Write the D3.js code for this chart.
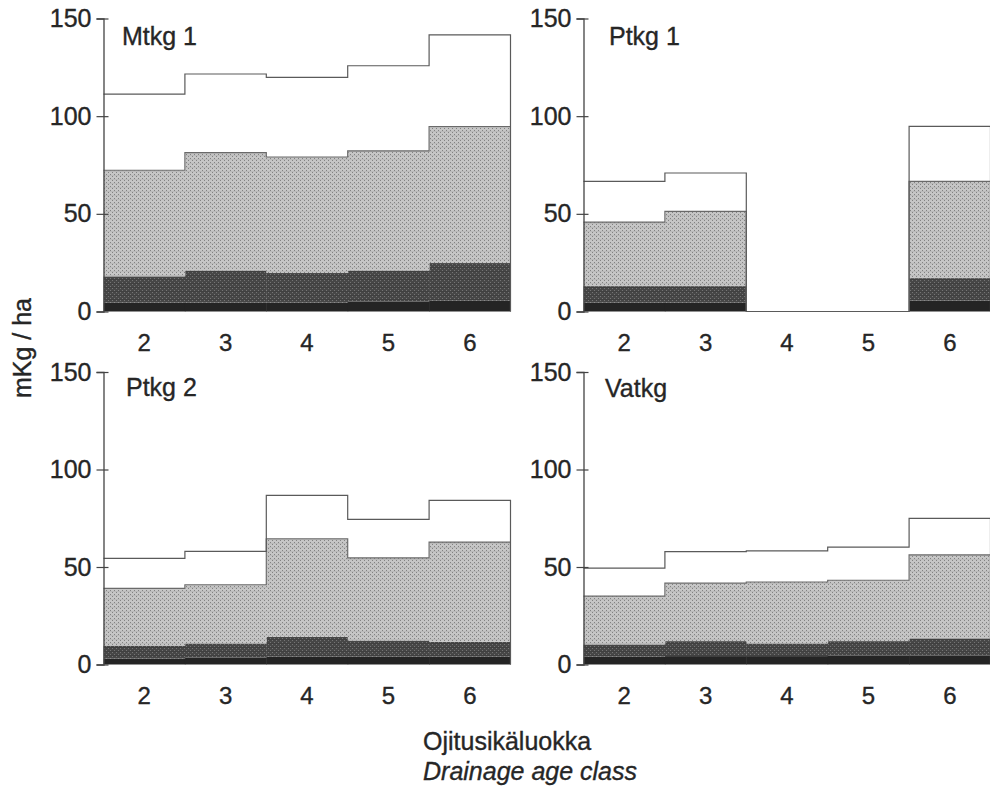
<!DOCTYPE html>
<html>
<head>
<meta charset="utf-8">
<script src="https://cdn.jsdelivr.net/npm/d3@7/dist/d3.min.js"></script>
<style>
  body { margin: 0; background: #fff; }
  svg text { font-family: "Liberation Sans", Arial, sans-serif; fill: #262626; stroke: #262626; stroke-width: 0.35px; }
</style>
</head>
<body>
<div id="chart"></div>
<script>
// ikäluokat (x) ja y-akselin jaot
const ageClasses = ["2", "3", "4", "5", "6"];
const yTicks = [0, 50, 100, 150];
const panelNames = ["Mtkg 1", "Ptkg 1", "Ptkg 2", "Vatkg"];
const layerKeys = ["l1", "l2", "l3", "l4"]; // alhaalta ylös

// kerrosten arvot (mKg/ha), alin kerros ensin
const mtkg1_l1 = [4.5, 4.5, 4.5, 5, 5.5];
const mtkg1_l2 = [13.5, 16.5, 15.2, 16, 19.3];
const mtkg1_l3 = [54.3, 60.3, 59.4, 61.2, 69.9];
const mtkg1_l4 = [39, 40.3, 40.8, 43.6, 46.9];

const ptkg1_l1 = [4.5, 4.5, 0, 0, 5.6];
const ptkg1_l2 = [8.5, 8.5, 0, 0, 11.5];
const ptkg1_l3 = [32.8, 38.3, 0, 0, 49.5];
const ptkg1_l4 = [20.8, 19.6, 0, 0, 28.2];

const ptkg2_l1 = [3, 3.5, 4, 4, 4];
const ptkg2_l2 = [6.7, 7.3, 10.2, 8.3, 7.6];
const ptkg2_l3 = [29.3, 30.1, 50.3, 42.4, 51.2];
const ptkg2_l4 = [15.4, 17.1, 22.2, 19.7, 21.4];

const vatkg_l1 = [4, 4.3, 4.3, 4.5, 4.5];
const vatkg_l2 = [6.3, 7.7, 6.5, 7.5, 8.9];
const vatkg_l3 = [24.8, 29.7, 31.5, 31.2, 42.8];
const vatkg_l4 = [14.3, 16.2, 16, 17, 18.7];

const panelLayers = [
  [mtkg1_l1, mtkg1_l2, mtkg1_l3, mtkg1_l4],
  [ptkg1_l1, ptkg1_l2, ptkg1_l3, ptkg1_l4],
  [ptkg2_l1, ptkg2_l2, ptkg2_l3, ptkg2_l4],
  [vatkg_l1, vatkg_l2, vatkg_l3, vatkg_l4]
];

const W = 990, H = 794;
const svg = d3.select("#chart").append("svg")
  .attr("width", W).attr("height", H);

// tekstuurit
const defs = svg.append("defs");
function stipple(id, bg, dot, line) {
  const p = defs.append("pattern").attr("id", id)
    .attr("width", 4).attr("height", 4).attr("patternUnits", "userSpaceOnUse");
  p.append("rect").attr("width", 4).attr("height", 4).attr("fill", bg);
  p.append("rect").attr("x", 0).attr("y", 0).attr("width", 1).attr("height", 1).attr("fill", dot);
  p.append("rect").attr("x", 2).attr("y", 2).attr("width", 1).attr("height", 1).attr("fill", dot);
  if (line) p.append("rect").attr("x", 0).attr("y", 3).attr("width", 4).attr("height", 0.6).attr("fill", line).attr("opacity", 0.35);
}
stipple("pMed", "#c6c6c6", "#828282", "#909090");
stipple("pDark", "#474747", "#757575", "#222");
const fills = ["#242424", "url(#pDark)", "url(#pMed)", "#ffffff"];

// paneelien sijainnit
const panels = [
  {left: 103.5, top: 18.5, bottom: 311.5, titleX: 122, titleY: 45},
  {left: 583.5, top: 18.5, bottom: 311.5, titleX: 609, titleY: 45},
  {left: 103.5, top: 372, bottom: 664.5, titleX: 126, titleY: 396},
  {left: 583.5, top: 372, bottom: 664.5, titleX: 605, titleY: 397}
];
const pw = 407;

panels.forEach((pan, i) => {
  const rows = ageClasses.map((c, j) => {
    const r = {cls: c};
    layerKeys.forEach((k, li) => r[k] = panelLayers[i][li][j]);
    return r;
  });
  const stacked = d3.stack().keys(layerKeys)(rows);

  const x = d3.scaleBand().domain(ageClasses).range([pan.left, pan.left + pw]).padding(0);
  const y = d3.scaleLinear().domain([0, 150]).range([pan.bottom, pan.top]);
  const g = svg.append("g");

  // pinotut palkit
  stacked.forEach((layer, li) => {
    g.selectAll(null).data(layer).enter().append("rect")
      .attr("x", d => x(d.data.cls))
      .attr("width", x.bandwidth() + 0.5)
      .attr("y", d => y(d[1]))
      .attr("height", d => Math.max(0, y(d[0]) - y(d[1])))
      .attr("fill", fills[li]);
  });

  // porrasviivat
  const stepLine = d3.line().x(p => p[0]).y(p => p[1]);
  [2, 3].forEach(li => {
    const pts = [];
    stacked[li].forEach(d => {
      pts.push([x(d.data.cls), y(d[1])]);
      pts.push([x(d.data.cls) + x.bandwidth(), y(d[1])]);
    });
    if (li === 3) pts.push([pan.left + pw, y(0)]);
    g.append("path").attr("d", stepLine(pts))
      .attr("fill", "none")
      .attr("stroke", li === 3 ? "#5a5a5a" : "#6a6a6a")
      .attr("stroke-width", 1.2);
  });

  // y-akseli
  const ay = g.append("g")
    .attr("transform", `translate(${pan.left},0)`)
    .call(d3.axisLeft(y).tickValues(yTicks).tickSize(7).tickPadding(5));
  ay.select(".domain").attr("stroke", "#444").attr("stroke-width", 1.3);
  ay.selectAll(".tick line").attr("x1", 5).attr("stroke", "#444").attr("stroke-width", 1.2);
  ay.selectAll(".tick text")
    .style("font-family", "Liberation Sans, Arial, sans-serif")
    .style("font-size", "25px").attr("fill", "#262626");

  // x-akselin luokat
  const ax = g.append("g")
    .attr("transform", `translate(0,${pan.bottom})`)
    .call(d3.axisBottom(x).tickSize(0).tickPadding(22));
  ax.select(".domain").remove();
  ax.selectAll(".tick text")
    .style("font-family", "Liberation Sans, Arial, sans-serif")
    .style("font-size", "24px").attr("fill", "#262626");

  // paneelin otsikko
  g.append("text").attr("x", pan.titleX).attr("y", pan.titleY)
    .style("font-size", "25px").text(panelNames[i]);
});

// akselien otsikot
svg.append("text")
  .attr("transform", "translate(31,348) rotate(-90)")
  .attr("text-anchor", "middle")
  .style("font-size", "25px")
  .text("mKg / ha");

svg.append("text").attr("x", 423).attr("y", 750)
  .style("font-size", "25px").text("Ojitusikäluokka");
svg.append("text").attr("x", 423).attr("y", 780)
  .style("font-size", "25px").style("font-style", "italic")
  .text("Drainage age class");
</script>
</body>
</html>
